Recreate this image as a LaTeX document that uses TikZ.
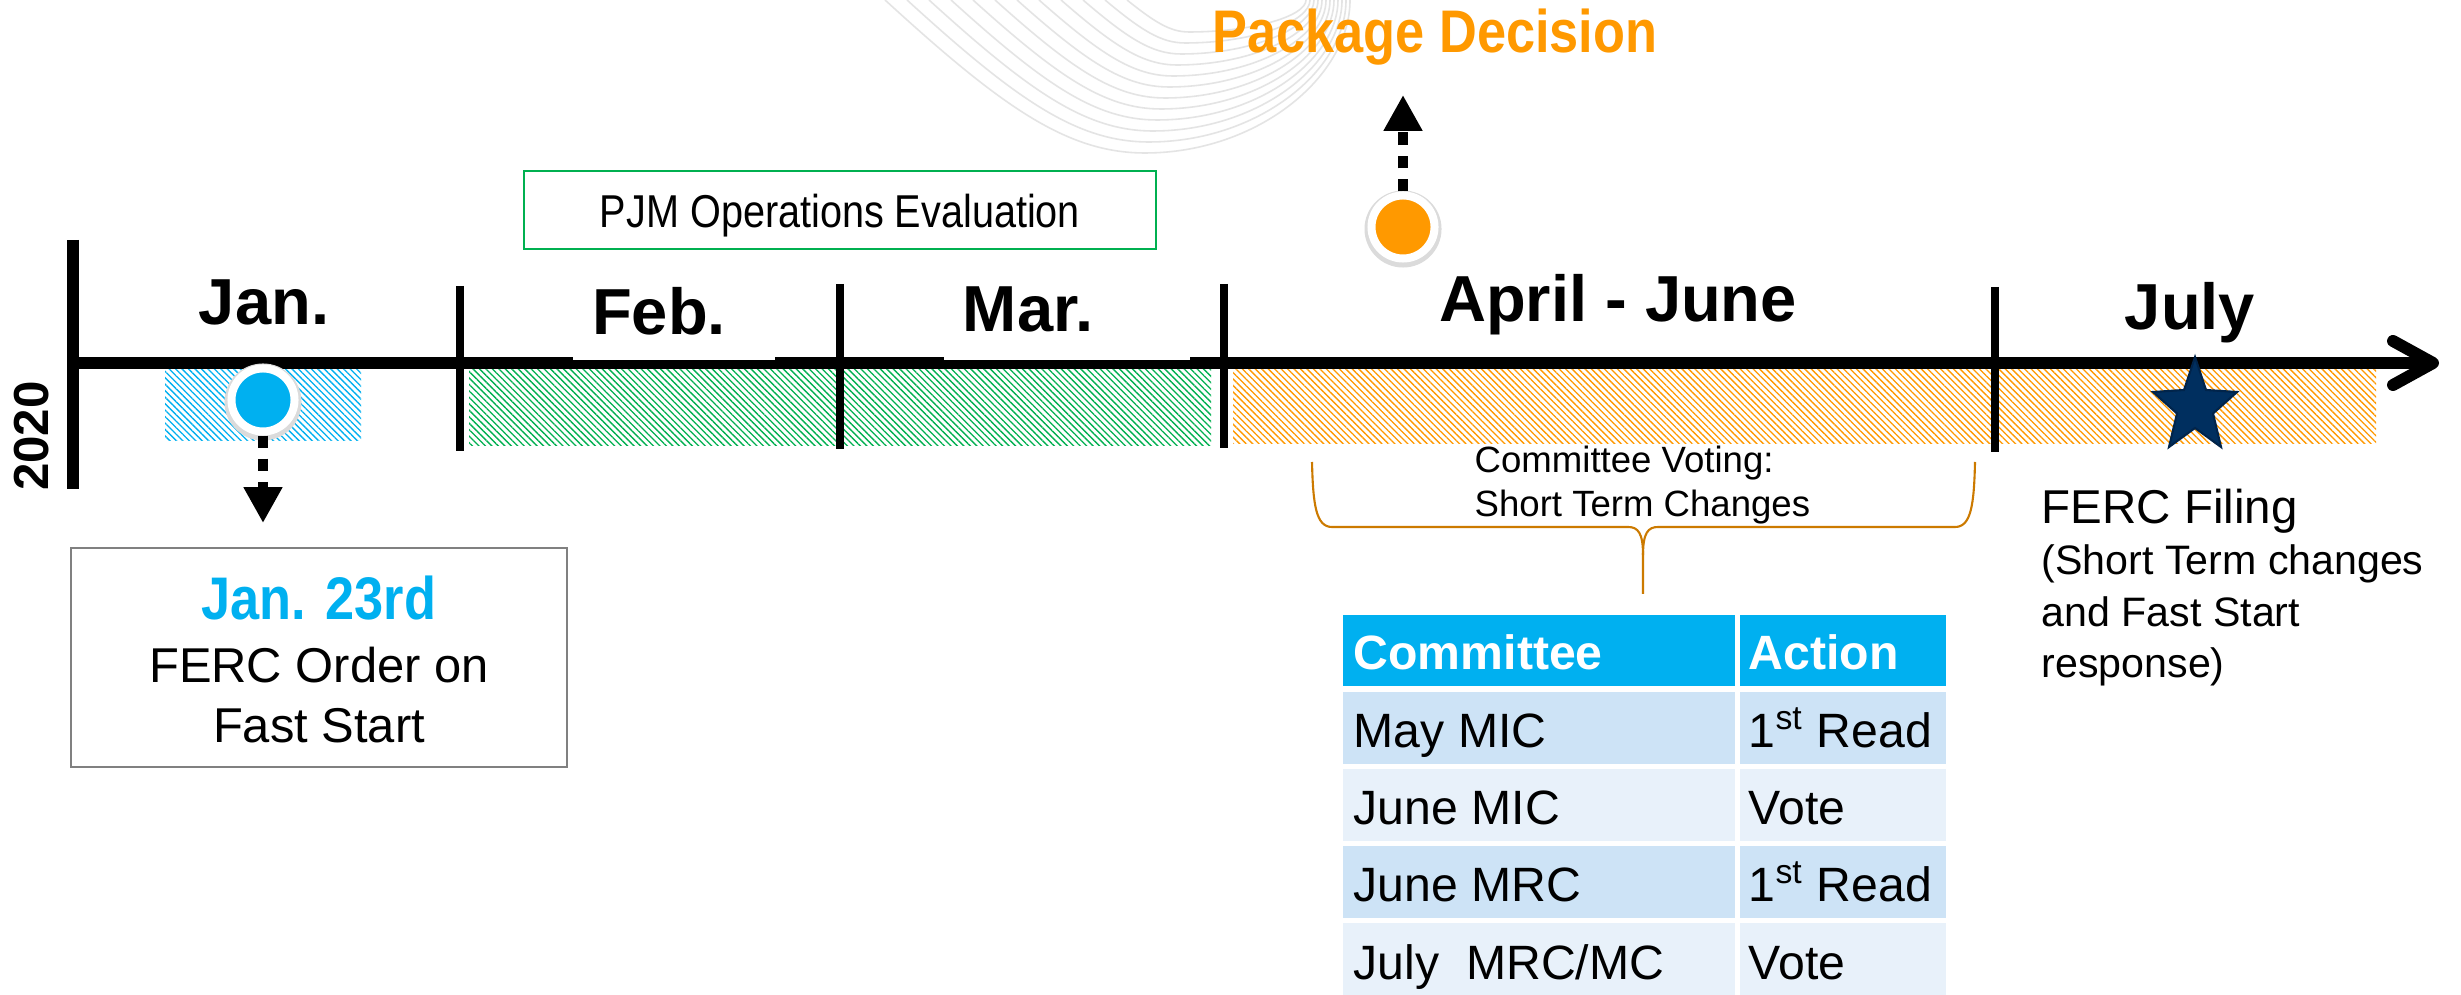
\documentclass[tikz,border=0pt]{standalone}
\usepackage{fontspec}
\setmainfont{Liberation Sans}
\usepackage{graphicx}
\usetikzlibrary{arrows.meta,patterns.meta}
\definecolor{pjmblue}{RGB}{0,176,240}
\definecolor{pjmgreen}{RGB}{0,176,80}
\definecolor{pjmorange}{RGB}{255,153,0}
\definecolor{bracec}{RGB}{204,122,0}
\definecolor{navystar}{RGB}{0,47,95}
\definecolor{navyedge}{RGB}{0,36,75}
\definecolor{rowA}{RGB}{205,227,246}
\definecolor{rowB}{RGB}{232,241,250}
\definecolor{arcgray}{RGB}{228,228,228}
\definecolor{boxgray}{RGB}{128,128,128}
\begin{document}
\begin{tikzpicture}[x=0.01cm,y=-0.01cm,
  arcline/.style={draw=arcgray,line width=0.45pt},
  axisline/.style={line width=3.4pt,black},
  tickline/.style={line width=2.2pt,black},
  hatchblue/.style={pattern={Lines[angle=-45,distance=1.3pt,line width=0.38pt]},pattern color=pjmblue},
  hatchgreen/.style={pattern={Lines[angle=-45,distance=1.3pt,line width=0.38pt]},pattern color=pjmgreen},
  hatchorange/.style={pattern={Lines[angle=-45,distance=1.3pt,line width=0.38pt]},pattern color=pjmorange},
  month/.style={anchor=base,inner sep=0,font=\fontsize{18.5pt}{22pt}\selectfont\bfseries},
  dotnode/.style={circle,draw=white,line width=0.8mm,minimum size=0.63cm,inner sep=0},
  dasharrow/.style={line width=3.1pt,dash pattern=on 3.6pt off 3pt,-{Triangle[length=10.2pt,width=10.4pt]}},
  txt/.style={inner sep=0},
  cellbg/.style={rectangle,draw=none,inner sep=0,outer sep=0,anchor=north west},
  celltxt/.style={anchor=base west,inner sep=0,font=\fontsize{13.7pt}{16pt}\selectfont},
  headtxt/.style={anchor=base west,inner sep=0,text=white,font=\fontsize{13.7pt}{16pt}\selectfont\bfseries},
  bracestyle/.style={draw=bracec,line width=0.6pt}
]
\useasboundingbox (0,0) rectangle (2461,995);
\fill[white] (0,0) rectangle (2461,995);

% decorative background arcs
\foreach \i in {0,...,11}{
  \pgfmathsetmacro{\xl}{885+22*\i}
  \pgfmathsetmacro{\xb}{1145+4*\i}
  \pgfmathsetmacro{\xr}{1350-4*\i}
  \pgfmathsetmacro{\dd}{153-11*\i}
  \pgfmathsetmacro{\ca}{\xl+0.45*(\xb-\xl)}
  \pgfmathsetmacro{\cb}{\xb-0.3*(\xb-\xl)}
  \pgfmathsetmacro{\cc}{\xb+0.55*(\xr-\xb)}
  \pgfmathsetmacro{\cd}{0.7*\dd}
  \pgfmathsetmacro{\ce}{0.5*\dd}
  \draw[arcline] (\xl,0) .. controls (\ca,\cd) and (\cb,\dd) .. (\xb,\dd) .. controls (\cc,\dd) and (\xr,\ce) .. (\xr,0);
}

% hatched bars
\fill[hatchblue] (165,369) rectangle (361,441);
\fill[hatchgreen] (469,370) rectangle (1211,446);
\fill[hatchorange] (1233,370) rectangle (2376,444);

% axis
\coordinate (axstart) at (73,363);
\coordinate (axend) at (2433,363);
\draw[axisline] (axstart) -- (axend);
\draw[axisline,line cap=round,line join=round] (2393,341) -- (axend) -- (2393,385);
\draw[axisline] (73,240) -- (73,489);
\draw[tickline] (460,286) -- (460,451);
\draw[tickline] (840,284) -- (840,449);
\draw[tickline] (1224,284) -- (1224,448);
\draw[tickline] (1995,287) -- (1995,452);

% white label boxes overlapping the axis
\fill[white] (573,300) rectangle (775,360);
\fill[white] (944,300) rectangle (1190,360);

% month labels
\node[month] (jan) at (264,325) {Jan.};
\node[month] (feb) at (659,335) {Feb.};
\node[month] (mar) at (1028,332) {Mar.};
\node[month] (aprjun) at (1618,322) {April - June};
\node[month] (jul) at (2190,330) {July};
\node[txt,rotate=90,font=\fontsize{14pt}{16pt}\selectfont\bfseries] (year) at (32,436) {2020};

% PJM operations box
\node[draw=pjmgreen,line width=0.6pt,minimum width=6.32cm,minimum height=0.78cm,inner sep=0] (pjmbox) at (840,210) {};
\node[txt,anchor=base] (pjmtxt) at (840,228) {\fontsize{13.1pt}{15pt}\selectfont\scalebox{0.86}[1]{PJM Operations Evaluation}};

% blue dot and arrow to Jan box
\fill[black!14] (263,402) circle (0.385cm);
\node[dotnode,fill=pjmblue] (bluedot) at (263,400) {};
\coordinate (bluetip) at (263,523);
\draw[dasharrow] (bluedot.south) -- (bluetip);

\node[draw=boxgray,line width=0.6pt,minimum width=4.96cm,minimum height=2.19cm,inner sep=0] (janbox) at (319,657.5) {};
\node[txt,anchor=base,text=pjmblue] (jandate) at (319,620) {\fontsize{17.1pt}{20pt}\selectfont\bfseries\scalebox{0.87}[1]{Jan. 23rd}};
\node[txt,anchor=base] (janl1) at (319,683) {\fontsize{13.9pt}{16pt}\selectfont FERC Order on};
\node[txt,anchor=base] (janl2) at (319,743) {\fontsize{13.9pt}{16pt}\selectfont Fast Start};

% orange dot and arrow to package decision
\fill[black!14] (1403,229) circle (0.385cm);
\node[dotnode,fill=pjmorange] (pkgdot) at (1403,227) {};
\coordinate (pkgtip) at (1403,95);
\draw[dasharrow] (pkgdot.north) -- (pkgtip);
\node[txt,anchor=base,text=pjmorange] (pkg) at (1435,53) {\fontsize{17.1pt}{20pt}\selectfont\bfseries\scalebox{0.87}[1]{Package Decision}};

% star
\filldraw[fill=navystar,draw=navyedge,line width=0.6pt] (2195,357) -- (2206,390) -- (2237,392) -- (2213,413.5) -- (2221,447) -- (2195,428) -- (2169,447) -- (2177,413.5) -- (2153,392) -- (2184,390) -- cycle;

% FERC filing
\node[txt,anchor=base west] (ferc1) at (2041,524) {\fontsize{13.5pt}{16pt}\selectfont FERC Filing};
\node[txt,anchor=base west] (ferc2) at (2041,575) {\fontsize{11.7pt}{14pt}\selectfont (Short Term changes};
\node[txt,anchor=base west] (ferc3) at (2041,627) {\fontsize{11.7pt}{14pt}\selectfont and Fast Start};
\node[txt,anchor=base west] (ferc4) at (2041,678) {\fontsize{11.7pt}{14pt}\selectfont response)};

% committee voting brace
\node[txt,anchor=base west] (cv1) at (1474,473) {\fontsize{10.4pt}{12pt}\selectfont Committee Voting:};
\node[txt,anchor=base west] (cv2) at (1474,517) {\fontsize{10.4pt}{12pt}\selectfont Short Term Changes};
\coordinate (bracetip) at (1643,594);
\draw[bracestyle] (1312,462) .. controls (1313,505) and (1316,527) .. (1332,527) -- (1628,527) .. controls (1638,527) and (1643,533) .. (1643,555) -- (bracetip);
\draw[bracestyle] (1975,462) .. controls (1974,505) and (1971,527) .. (1955,527) -- (1658,527) .. controls (1648,527) and (1643,533) .. (1643,555);

% table
\node[cellbg,fill=pjmblue,minimum width=3.92cm,minimum height=0.71cm] (hA) at (1343,615) {};
\node[cellbg,fill=pjmblue,minimum width=2.06cm,minimum height=0.71cm] (hB) at (1740,615) {};
\node[headtxt] at (1353,670) {Committee};
\node[headtxt] at (1748,670) {Action};

\node[cellbg,fill=rowA,minimum width=3.92cm,minimum height=0.72cm] (r1A) at (1343,692) {};
\node[cellbg,fill=rowA,minimum width=2.06cm,minimum height=0.72cm] (r1B) at (1740,692) {};
\node[cellbg,fill=rowB,minimum width=3.92cm,minimum height=0.72cm] (r2A) at (1343,769) {};
\node[cellbg,fill=rowB,minimum width=2.06cm,minimum height=0.72cm] (r2B) at (1740,769) {};
\node[cellbg,fill=rowA,minimum width=3.92cm,minimum height=0.72cm] (r3A) at (1343,846) {};
\node[cellbg,fill=rowA,minimum width=2.06cm,minimum height=0.72cm] (r3B) at (1740,846) {};
\node[cellbg,fill=rowB,minimum width=3.92cm,minimum height=0.72cm] (r4A) at (1343,923) {};
\node[cellbg,fill=rowB,minimum width=2.06cm,minimum height=0.72cm] (r4B) at (1740,923) {};

\node[celltxt] (t1a) at (1353,748) {May MIC};
\node[celltxt] (t1b) at (1748,748) {1\textsuperscript{st} Read};
\node[celltxt] (t2a) at (1353,825) {June MIC};
\node[celltxt] (t2b) at (1748,825) {Vote};
\node[celltxt] (t3a) at (1353,902) {June MRC};
\node[celltxt] (t3b) at (1748,902) {1\textsuperscript{st} Read};
\node[celltxt] (t4a) at (1353,979) {July\ \ MRC/MC};
\node[celltxt] (t4b) at (1748,979) {Vote};
\end{tikzpicture}
\end{document}
